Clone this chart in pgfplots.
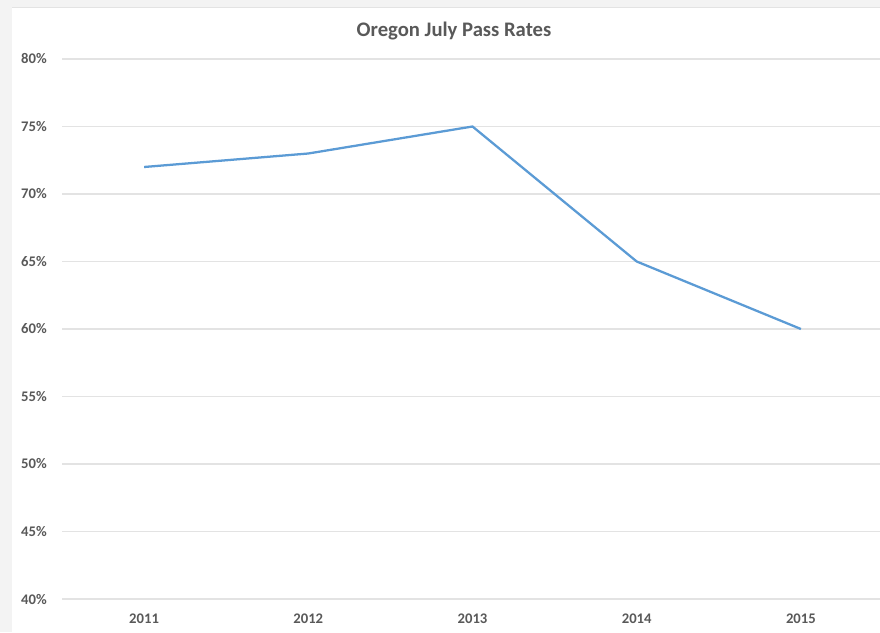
\documentclass[border=0pt]{standalone}
\usepackage{pgfplots}
\pgfplotsset{compat=1.18}
\usepackage{fontspec}
\setmainfont{Carlito}
\definecolor{txt}{HTML}{595959}
\definecolor{gridc}{HTML}{E3E3E3}
\definecolor{linec}{HTML}{5B9BD5}
\definecolor{bgc}{HTML}{F3F3F3}
\begin{document}
\begin{tikzpicture}
\useasboundingbox (0,0) rectangle (660pt,474pt);
\clip (0,0) rectangle (660pt,474pt);
\fill[bgc] (0,0) rectangle (660pt,474pt);
\fill[white] (9pt,0) rectangle (660pt,468.75pt);
\draw[gridc, line width=0.6pt] (9pt,468.75pt) -- (660pt,468.75pt);
\begin{axis}[
  at={(46.5pt,24.75pt)}, anchor=south west,
  scale only axis, width=615.75pt, height=405pt,
  xmin=-0.5, xmax=4.5, ymin=40, ymax=80,
  xtick={0,1,2,3,4}, xticklabels={2011,2012,2013,2014,2015},
  ytick={40,45,...,80},
  yticklabel={\pgfmathprintnumber{\tick}\%},
  /pgf/number format/assume math mode=true,
  axis line style={draw=none},
  major tick length=0pt,
  xmajorgrids=false, ymajorgrids=true,
  major grid style={draw=gridc, line width=0.8pt},
  tick label style={font=\fontsize{11}{13}\selectfont\bfseries, text=txt},
  yticklabel style={inner sep=0pt, anchor=east, xshift=-11.25pt},
  xticklabel style={inner sep=0pt, anchor=center, yshift=-15pt},
  clip=false,
]
\addplot[linec, line width=1.7pt, mark=none] coordinates {(0,72) (1,73) (2,75) (3,65) (4,60)};
\end{axis}
\node[anchor=base, text=txt, font=\fontsize{15.5}{18}\selectfont\bfseries, inner sep=0pt] at (340.5pt,446.25pt) {Oregon July Pass Rates};
\end{tikzpicture}
\end{document}
